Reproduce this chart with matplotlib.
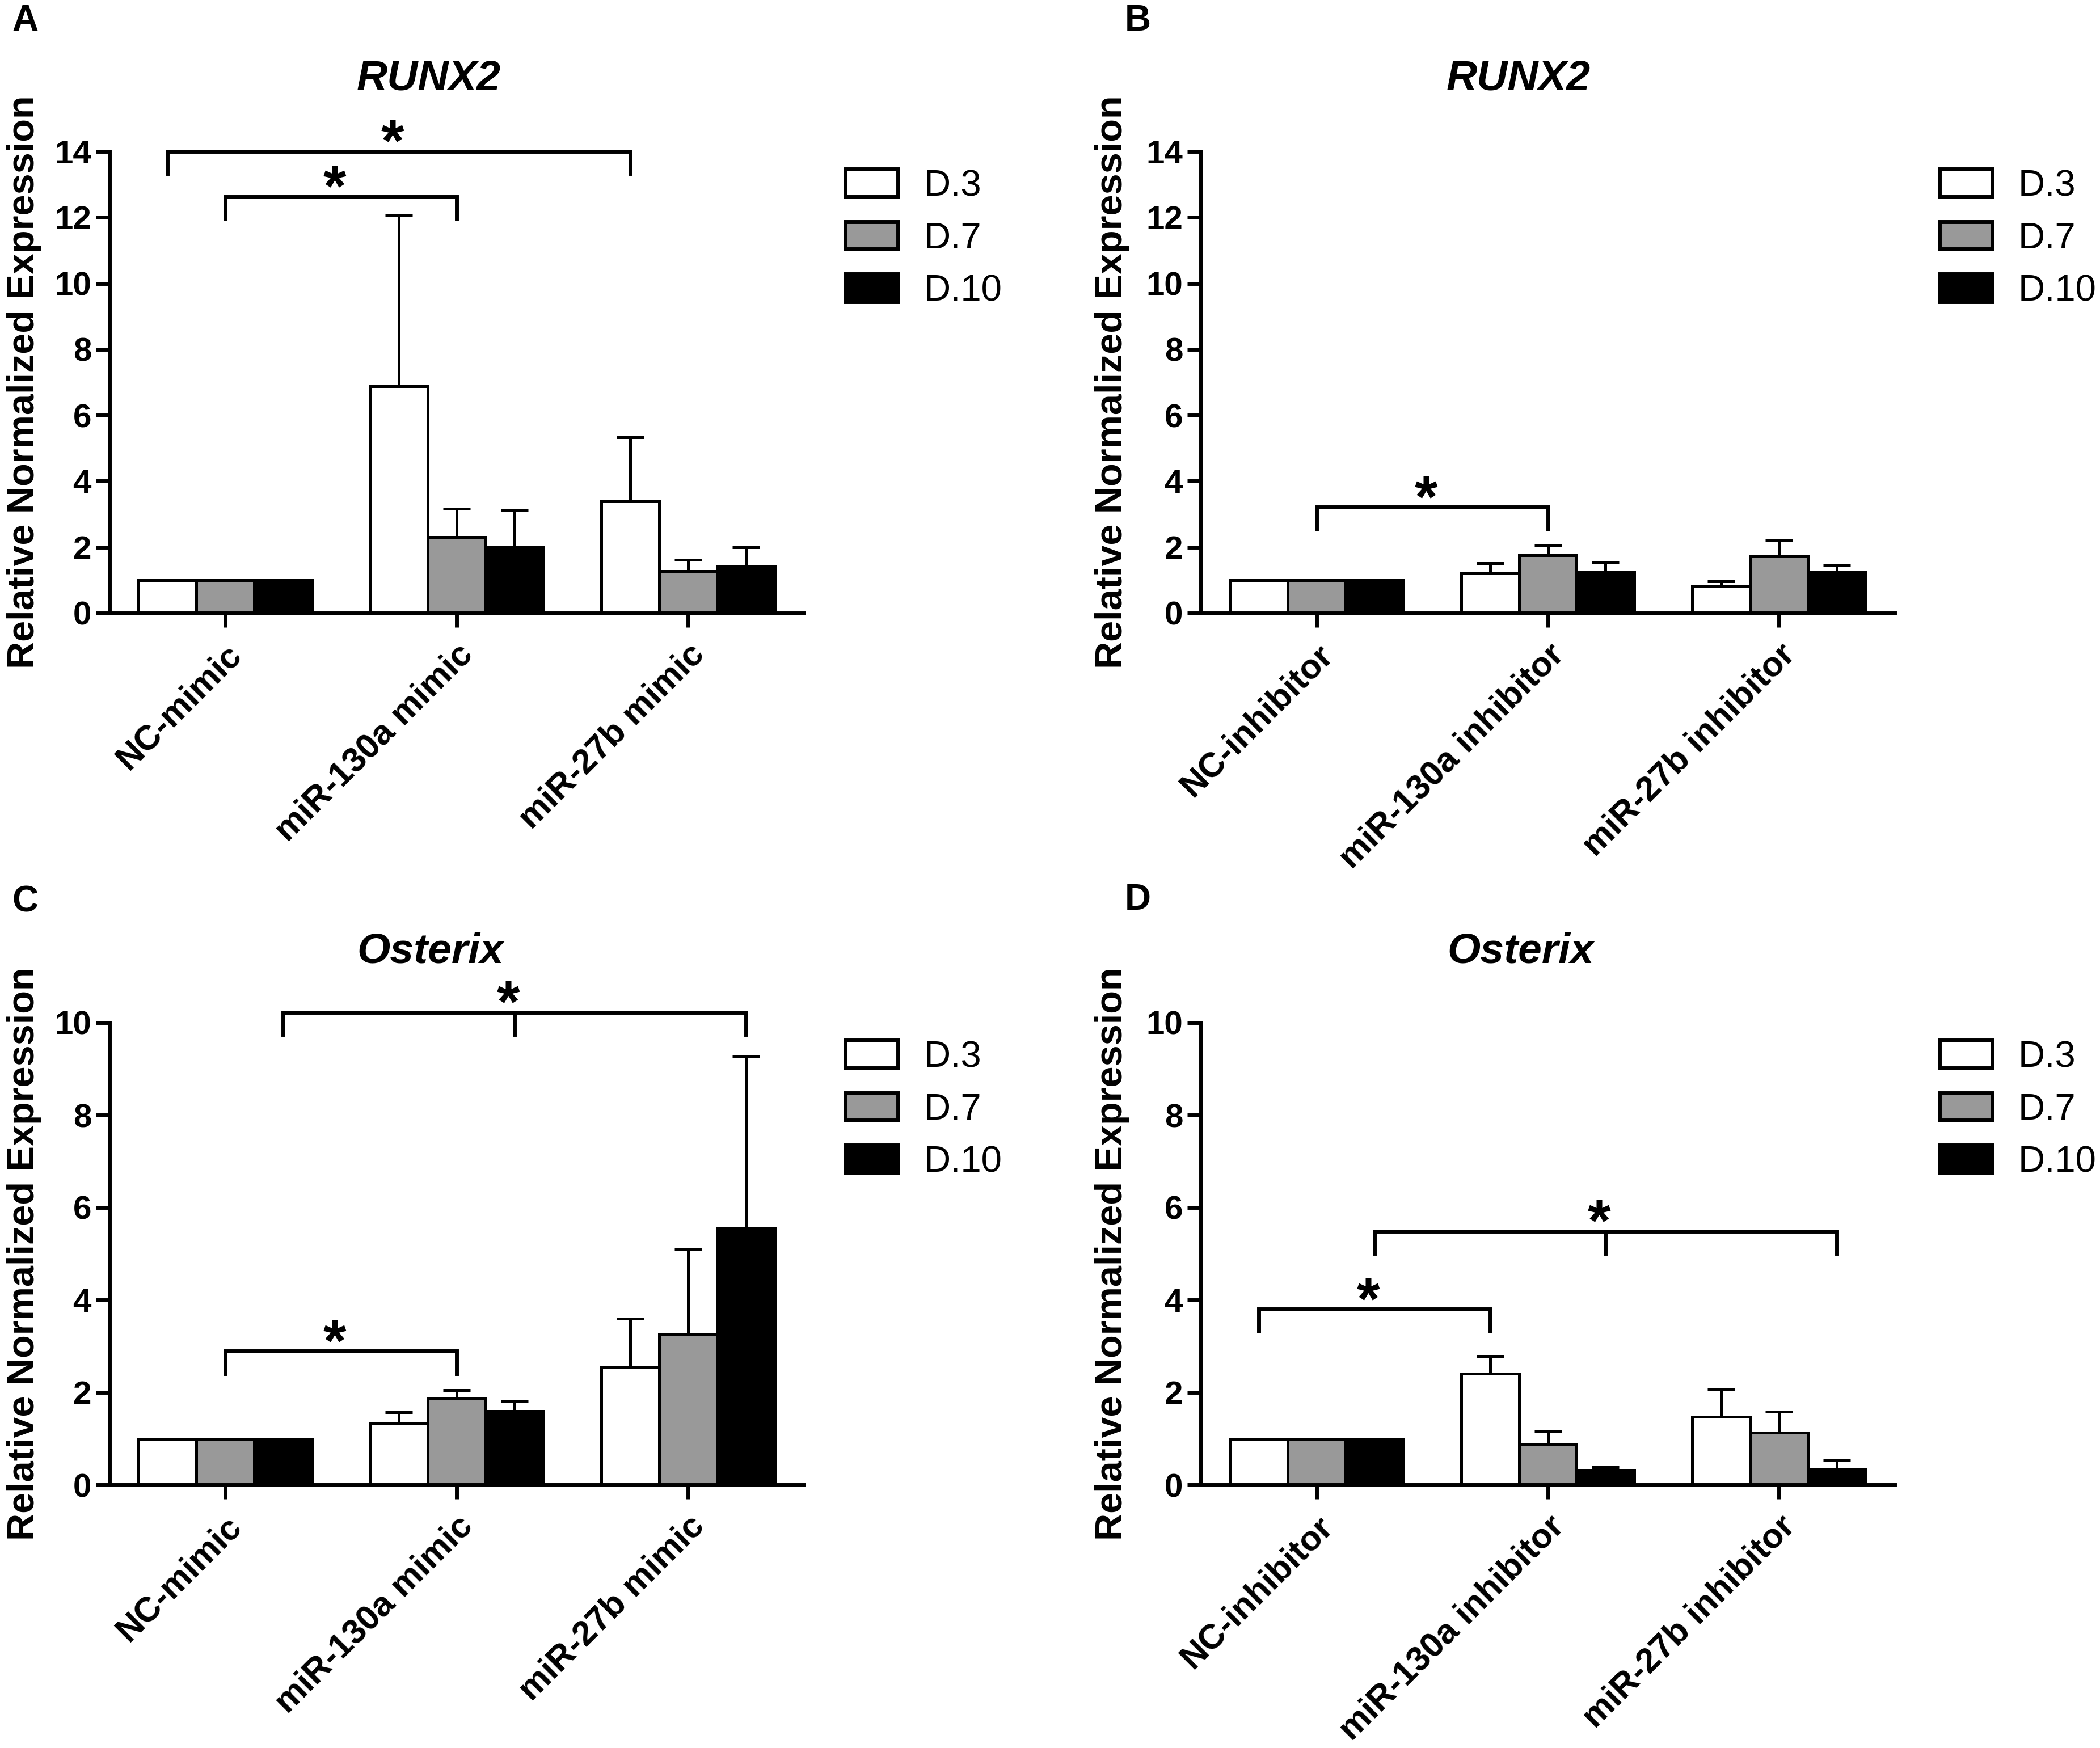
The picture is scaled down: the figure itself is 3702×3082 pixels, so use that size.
import numpy as np
import matplotlib
matplotlib.use("Agg")
import matplotlib.pyplot as plt
from matplotlib.patches import Patch

plt.rcParams['font.family'] = ['Liberation Sans', 'DejaVu Sans']

W, H, DPI = 3702, 3082, 100

days = ["D.3", "D.7", "D.10"]
day_colors = ["#ffffff", "#999999", "#000000"]

mimic_groups = ["NC-mimic", "miR-130a mimic", "miR-27b mimic"]
inhibitor_groups = ["NC-inhibitor", "miR-130a inhibitor", "miR-27b inhibitor"]

# rows = groups, columns = D.3, D.7, D.10
runx2_mimic_mean = [[1.00, 1.00, 1.00], [6.88, 2.30, 2.01], [3.38, 1.28, 1.42]]
runx2_mimic_err = [[0.00, 0.00, 0.00], [5.19, 0.86, 1.10], [1.96, 0.34, 0.58]]

runx2_inhib_mean = [[1.00, 1.00, 1.00], [1.20, 1.76, 1.25], [0.82, 1.74, 1.25]]
runx2_inhib_err = [[0.00, 0.00, 0.00], [0.32, 0.31, 0.30], [0.14, 0.48, 0.22]]

osx_mimic_mean = [[1.00, 1.00, 1.00], [1.34, 1.86, 1.59], [2.54, 3.25, 5.54]]
osx_mimic_err = [[0.00, 0.00, 0.00], [0.23, 0.19, 0.23], [1.05, 1.85, 3.74]]

osx_inhib_mean = [[1.00, 1.00, 1.00], [2.41, 0.87, 0.32], [1.47, 1.13, 0.34]]
osx_inhib_err = [[0.00, 0.00, 0.00], [0.37, 0.29, 0.06], [0.60, 0.45, 0.20]]

# significance brackets: list of (group, day) legs and bracket level
runx2_mimic_sig = [([(0, 0), (2, 0)], 14.0), ([(0, 1), (1, 1)], 12.63)]
runx2_inhib_sig = [([(0, 1), (1, 1)], 3.21)]
osx_mimic_sig = [([(0, 2), (1, 2), (2, 2)], 10.22), ([(0, 1), (1, 1)], 2.89)]
osx_inhib_sig = [([(0, 0), (1, 0)], 3.80), ([(0, 2), (1, 2), (2, 2)], 5.49)]

panels = [
    dict(letter="A", title="RUNX2", groups=mimic_groups, mean=runx2_mimic_mean, err=runx2_mimic_err,
         sig=runx2_mimic_sig, ymax=14, px=(193, 1417, 1081, 267), title_xy=(756, 139),
         letter_xy=(21, 54), legend_xy=(1490, 298), ylab_x=-0.097),
    dict(letter="B", title="RUNX2", groups=inhibitor_groups, mean=runx2_inhib_mean, err=runx2_inhib_err,
         sig=runx2_inhib_sig, ymax=14, px=(2117, 3340, 1081, 267), title_xy=(2677, 139),
         letter_xy=(1983, 54), legend_xy=(3419, 298), ylab_x=-0.102),
    dict(letter="C", title="Osterix", groups=mimic_groups, mean=osx_mimic_mean, err=osx_mimic_err,
         sig=osx_mimic_sig, ymax=10, px=(193, 1417, 2618, 1803), title_xy=(759, 1678),
         letter_xy=(21, 1608), legend_xy=(1490, 1834), ylab_x=-0.097),
    dict(letter="D", title="Osterix", groups=inhibitor_groups, mean=osx_inhib_mean, err=osx_inhib_err,
         sig=osx_inhib_sig, ymax=10, px=(2117, 3340, 2618, 1803), title_xy=(2681, 1678),
         letter_xy=(1983, 1604), legend_xy=(3419, 1834), ylab_x=-0.102),
]

fig = plt.figure(figsize=(W / DPI, H / DPI), dpi=DPI)
bw = 0.25
LW = 5.0

for p in panels:
    l, r, y0, yt = p["px"]
    ax = fig.add_axes([l / W, 1 - y0 / H, (r - l) / W, (y0 - yt) / H])
    mean = np.array(p["mean"])
    err = np.array(p["err"])
    x = np.arange(len(p["groups"]))
    for d in range(len(days)):
        xs = x + (d - 1) * bw
        ax.bar(xs, mean[:, d], width=bw, color=day_colors[d], edgecolor="black",
               linewidth=3.6, zorder=2)
        mask = err[:, d] > 0
        if mask.any():
            m = mean[mask, d]
            e = err[mask, d]
            _, caps, _ = ax.errorbar(xs[mask], m, yerr=[np.zeros_like(e), e], fmt="none",
                                     ecolor="black", elinewidth=3.6, capsize=17,
                                     capthick=3.6, zorder=3)
            for cl in caps:
                if np.allclose(cl.get_ydata(), m):
                    cl.set_visible(False)

    ax.set_xlim(-0.5, 2.5)
    ax.set_ylim(0, p["ymax"])
    ax.set_yticks(np.arange(0, p["ymax"] + 1, 2))
    ax.set_xticks(x)
    ax.set_xticklabels(p["groups"], rotation=45, ha="right", rotation_mode="anchor",
                       fontsize=44, fontweight="bold")
    for t in ax.get_yticklabels():
        t.set_fontsize(42)
        t.set_fontweight("bold")
    ax.tick_params(axis="y", length=17, width=LW, pad=6)
    ax.tick_params(axis="x", length=18, width=LW, pad=14)
    for s in ["top", "right"]:
        ax.spines[s].set_visible(False)
    for s in ["left", "bottom"]:
        ax.spines[s].set_linewidth(LW)
    ax.set_ylabel("Relative Normalized Expression", fontsize=48, fontweight="bold")
    ax.yaxis.set_label_coords(p["ylab_x"], 0.5)

    # significance brackets
    leg = 0.048 * p["ymax"]
    for legs, level in p["sig"]:
        xl = [g + (d - 1) * bw for g, d in legs]
        ax.plot([xl[0], xl[0], xl[-1], xl[-1]], [level - leg, level, level, level - leg],
                color="black", lw=LW, clip_on=False, solid_joinstyle="miter", zorder=4)
        if len(xl) == 3:
            ax.plot([xl[1], xl[1]], [level, level - leg], color="black", lw=LW,
                    clip_on=False, zorder=4)
            xs_star = xl[1]
        else:
            xs_star = (xl[0] + xl[-1]) / 2
        ax.annotate("*", xy=(xs_star, level), xytext=(-8, -12), textcoords="offset points",
                    ha="center", va="baseline", fontsize=75, fontweight="bold",
                    annotation_clip=False)

    fig.text(p["title_xy"][0] / W, 1 - p["title_xy"][1] / H, p["title"], ha="center",
             va="center", fontsize=54, fontweight="bold", fontstyle="italic")
    fig.text(p["letter_xy"][0] / W, 1 - p["letter_xy"][1] / H, p["letter"], ha="left",
             va="baseline", fontsize=46, fontweight="bold")

    handles = [Patch(facecolor=c, edgecolor="black", linewidth=5) for c in day_colors]
    fig.legend(handles, days, loc="upper left",
               bbox_to_anchor=(p["legend_xy"][0] / W, 1 - p["legend_xy"][1] / H),
               bbox_transform=fig.transFigure, frameon=False, fontsize=47,
               handlelength=1.42, handleheight=0.77, handletextpad=0.7,
               labelspacing=0.5, borderpad=0, borderaxespad=0)

fig.savefig("out.png", dpi=DPI)
